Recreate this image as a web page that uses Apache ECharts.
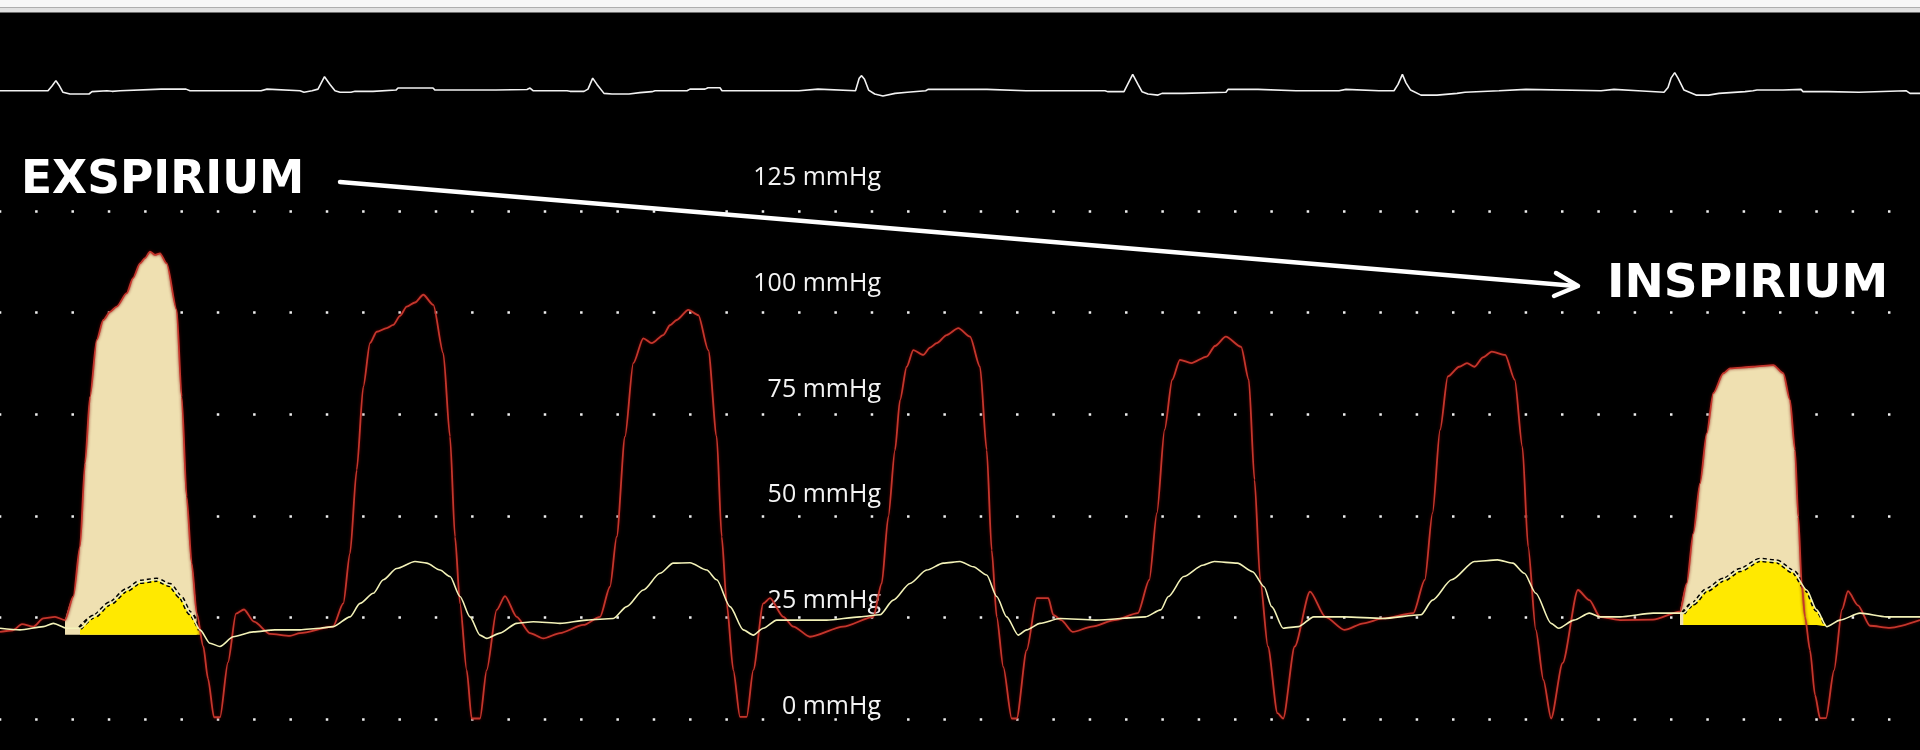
<!DOCTYPE html>
<html><head><meta charset="utf-8">
<script src="https://cdn.jsdelivr.net/npm/echarts@6/dist/echarts.min.js"></script>
<style>html,body{margin:0;padding:0;background:#000;}#c{width:1920px;height:750px;}</style>
</head><body><div id="c"></div>
<script>
// ---- DATA ----
// ECG trace (x = sample position, value in relative mV units)
const ecgTrace = [[0,0],[48,0],[52,0.3],[55.9,0.64],[59,0.35],[63,-0.1],[70,-0.21],[89,-0.21],[92,-0.06],[107,0],[112,-0.04],[120,0],[161,0.1],[186,0.1],[190,0],[261,0],[263,0.1],[267,0.1],[269,0],[300,0],[304,-0.1],[312,0],[318,0.1],[324.5,0.89],[330,0.4],[335,0],[340,-0.1],[351,-0.1],[355,-0.04],[373,-0.04],[375,0.04],[396,0.04],[398,0.17],[433,0.17],[435,0.04],[461,0.04],[463,-0.04],[468,0.04],[496,0.04],[498,0.08],[527,0.08],[530,0.17],[533,0],[567,0],[570,-0.04],[584,-0.04],[588,0.1],[592.7,0.8],[597,0.4],[604,-0.17],[612,-0.21],[629,-0.21],[640,-0.12],[652,-0.06],[655,0],[687,0],[690,0.1],[705,0.1],[708,0.19],[720,0.19],[722,0],[799,0],[801,0.1],[818,0.1],[820,0],[855.5,0],[859.2,0.79],[861.6,0.96],[864.5,0.73],[868.6,0.04],[874.7,-0.21],[882.9,-0.34],[895.1,-0.17],[907.3,-0.1],[925.7,0],[928,0.085],[987,0.085],[989,0],[1026,0],[1028,0.085],[1032,0],[1105,0],[1108,-0.06],[1124,-0.06],[1126,0.2],[1132.7,1.04],[1138,0.4],[1142,-0.06],[1148,-0.21],[1158,-0.28],[1162,-0.17],[1183,-0.17],[1185,-0.1],[1226,-0.1],[1228,0.085],[1258,0.085],[1260,0],[1296,0],[1298,-0.1],[1300,0],[1339,0],[1340,0.085],[1346,0.085],[1348,0],[1379,0],[1380,-0.1],[1382,0],[1394,0],[1398,0.4],[1402.4,1.04],[1406,0.5],[1410.6,0.04],[1421,-0.28],[1437,-0.28],[1439,-0.17],[1457,-0.17],[1459,-0.1],[1465,-0.1],[1467,0],[1499,0],[1501,0.085],[1526,0.085],[1528,0],[1601,0],[1603,0.085],[1614,0.085],[1616,0],[1638,0],[1640,-0.1],[1664,-0.1],[1668,0.2],[1671,0.8],[1674.7,1.15],[1678,0.8],[1684,0.04],[1696,-0.28],[1708.6,-0.28],[1719,-0.17],[1745,-0.06],[1753,0],[1757,0.04],[1783,0.04],[1785,0.085],[1801,0.085],[1803,-0.06],[1828,-0.06],[1830,-0.1],[1859,-0.1],[1861,0],[1906,0],[1910,-0.17],[1920,-0.17]];

// Red pressure trace (mmHg)
const redPressure = [[0,21.5],[13,21.9],[22,23.4],[33.3,22.8],[43.3,24.8],[55,25.2],[65,24.4],[73.3,30.2],[80,42.5],[85,63],[90,79.3],[96.7,93.3],[103.3,98.2],[110,100.2],[116.7,101.5],[126.7,104.8],[133,108.5],[140,112.1],[145,113.4],[150,115],[155,114.2],[160,114.6],[166.7,112.1],[176.7,100.7],[181.7,79.3],[186.7,54.7],[191.7,38.4],[196.7,26.1],[203.3,17.9],[208,10],[214,0.5],[220,0.5],[228,14],[236,26],[244,27],[254,24],[270,21],[290,20.5],[300,21.2],[333,22.8],[343.3,28.5],[350,40.8],[356.7,61.3],[363.3,81.8],[370,92.5],[376.7,95.3],[386.7,96.2],[393.3,97],[400,99.2],[406.7,101.5],[415,102.5],[423.3,104.4],[433.3,101.9],[443.3,90],[450,69.5],[455,44.9],[460,28.5],[466.7,12.1],[471.7,0.2],[480,0.2],[486.7,12.1],[496.7,26.9],[505,30.3],[516.7,25.2],[530,21.2],[543.3,19.9],[560,21.2],[583.3,23.2],[600,25.2],[610,32.6],[616.7,44.9],[625,69.5],[633.3,87.6],[643.3,93.7],[651.7,92.5],[663.3,94.5],[670,96.9],[676.7,98.2],[688.3,100.7],[698.3,99.4],[708.3,90.8],[716.7,69.5],[721.7,44.9],[726.7,28.5],[733.3,12.1],[740,0.6],[746.7,0.6],[753.3,12.1],[763.3,28.5],[770,29.8],[783.3,25.2],[793.3,22.8],[810,20.3],[843.3,22.8],[873.3,25.2],[881.7,33.4],[888.3,49.8],[895,66.2],[900,78.5],[906.7,86.7],[913.3,90.8],[923.3,89.6],[930,91.4],[936.7,92.5],[946.7,94.5],[958.3,96.2],[970,94.1],[980,86.7],[986.7,66.2],[991.7,41.6],[996.7,25.2],[1003.3,12.9],[1011.7,0.2],[1016.7,0.2],[1026.7,17],[1036.7,29.8],[1048.3,29.8],[1053.3,25.7],[1061.2,24.4],[1072.7,21.5],[1091.8,22.8],[1114.8,24.4],[1137.8,26.1],[1149.3,34.3],[1156.9,50.7],[1164.6,71.2],[1172.2,83.5],[1179.9,88.4],[1191.3,87.6],[1206.7,89.2],[1215,91.8],[1225.8,94.1],[1241.1,91.6],[1248.8,83.5],[1254.5,58.9],[1260.2,34.3],[1267.9,17.9],[1277.5,1.5],[1283.2,0.2],[1294.7,17.9],[1310,31.4],[1325.3,25.2],[1344.4,22],[1363.6,23.6],[1382.7,24.8],[1413.3,26.1],[1424.8,34.3],[1432.5,50.7],[1440.1,71.2],[1447.8,84.3],[1459.2,86.7],[1467,87.6],[1474.6,86.7],[1483,89],[1491.8,90.4],[1505.2,89.6],[1514.7,83.5],[1522.4,67],[1528.1,42.5],[1535.8,22],[1543.4,9.7],[1551.1,0.2],[1562.6,13.8],[1577.9,31.8],[1589.4,29.3],[1600,25.2],[1620,24.4],[1653,24.5],[1680,26.5],[1686.7,33.4],[1693.3,45.7],[1700,58],[1706.7,70.3],[1713.3,80.2],[1723.3,85.1],[1730,86.3],[1753.3,86.7],[1773.3,87.1],[1783.3,85.1],[1790,78.5],[1795,66.2],[1798.3,49.8],[1801.7,33.4],[1805,25.2],[1810,17],[1815,6],[1820,0.3],[1826,0.3],[1834,12],[1842,27],[1848,31.5],[1858,28],[1870,23],[1890,22.5],[1920,24.4]];

// Yellow pressure trace (mmHg)
const yellowPressure = [[0,22.4],[20,22],[43.3,22.8],[53.3,23.6],[66.7,22.4],[80,22.4],[93.3,25.2],[110,28.5],[126.7,31.8],[140,33.8],[156.7,34.3],[170,33],[180,30.2],[190,26.1],[200,22],[210,18.7],[220,17.9],[233.3,20.3],[253.3,21.5],[275,22],[300,22],[320,22.4],[333.3,22.8],[350,25.2],[360,28.5],[373.3,31],[383.3,34.3],[396.7,37.1],[415,38.8],[426.7,38.4],[440,36.7],[450,35.1],[460,30.2],[470,25.2],[480,20.7],[486.7,19.9],[500,21.2],[516.7,23.6],[533.3,24],[560,23.6],[586.7,24.4],[613.3,24.8],[626.7,27.7],[643.3,31.8],[660,35.9],[673.3,38.4],[690,38.5],[706.7,36.7],[716.7,34.3],[730,27.7],[743.3,22],[753.3,20.7],[763.3,22.4],[776.7,24.4],[800,24.4],[826.7,24.4],[860,25.2],[880,25.7],[893.3,29.3],[910,33.4],[926.7,36.7],[943.3,38.4],[960,38.8],[973.3,37.5],[986.7,35.5],[996.7,30.2],[1006.7,25.2],[1018.3,20.7],[1026.7,22],[1040,23.6],[1060,24.8],[1095.7,24.4],[1145.4,25.2],[1160.7,26.9],[1168.4,30.2],[1183.7,35.1],[1202.8,37.9],[1214.3,38.8],[1237.3,38.4],[1252.6,36.3],[1264.1,32.6],[1271.7,27.7],[1283.2,22.4],[1298.5,22.8],[1313.8,25.2],[1344.4,25.2],[1382.7,24.8],[1421,25.7],[1432.5,29.3],[1451.6,34.3],[1474.6,38.8],[1497.5,39.2],[1512.8,38.4],[1524.3,35.9],[1535.8,31],[1551.1,23.6],[1558.7,22.4],[1574,24.4],[1589.4,26.1],[1600,25.2],[1620,25.2],[1653.3,26.1],[1683.3,26.1],[1693.3,28.5],[1706.7,31.8],[1723.3,34.3],[1740,36.7],[1760,39.2],[1776.7,38.8],[1793.3,36.3],[1806.7,31.8],[1816.7,26.9],[1826.7,22.8],[1840,24.4],[1860,26.1],[1886.7,25.2],[1920,25.2]];

const pressureTicks = [0, 25, 50, 75, 100, 125];
const pressureUnit = 'mmHg';
const timeRange = [0, 1920];
const ecgRange = [-1, 2];

// highlighted beats: x windows and fill baseline (mmHg)
const exspiriumRedWindow = [65, 196.7];
const exspiriumYellowWindow = [80, 200];
const exspiriumBase = 20.8;
const inspiriumRedWindow = [1680, 1805];
const inspiriumYellowWindow = [1683.3, 1826.7];
const inspiriumBase = 23.2;

const labelTexts = ['EXSPIRIUM', 'INSPIRIUM'];

// ---- CHART ----
const chart = echarts.init(document.getElementById('c'), null, {renderer: 'canvas', width: 1920, height: 750});
const inRange = (arr, r) => arr.filter(p => p[0] >= r[0] && p[0] <= r[1]);
const pMin = pressureTicks[0], pMax = pressureTicks[pressureTicks.length - 1];
const pStep = pressureTicks[1] - pressureTicks[0];
const SMOOTH = 0.25;

function fillSeries(data, color, base, z) {
  return {type: 'line', xAxisIndex: 0, yAxisIndex: 0, data: data, showSymbol: false, clip: false,
    smooth: SMOOTH, smoothMonotone: 'x',
    lineStyle: {width: 0, opacity: 0}, areaStyle: {color: color, opacity: 1, origin: base}, z: z, silent: true};
}
function haloSeries(data) {
  return {type: 'line', xAxisIndex: 0, yAxisIndex: 0, data: data, showSymbol: false, clip: false,
    smooth: SMOOTH, smoothMonotone: 'x',
    lineStyle: {color: '#000', width: 4.5, type: [4, 3]}, z: 3, silent: true};
}

const series = [
  fillSeries(inRange(redPressure, exspiriumRedWindow), '#efe0b1', exspiriumBase, 1),
  fillSeries(inRange(redPressure, inspiriumRedWindow), '#efe0b1', inspiriumBase, 1),
  fillSeries(inRange(yellowPressure, exspiriumYellowWindow), '#ffe900', exspiriumBase, 2),
  fillSeries(inRange(yellowPressure, inspiriumYellowWindow), '#ffe900', inspiriumBase, 2),
  haloSeries(inRange(yellowPressure, exspiriumYellowWindow)),
  haloSeries(inRange(yellowPressure, inspiriumYellowWindow)),
  {type: 'line', name: 'red', xAxisIndex: 0, yAxisIndex: 0, data: redPressure, showSymbol: false, clip: false,
    smooth: SMOOTH, smoothMonotone: 'x',
    lineStyle: {color: '#c4362c', width: 1.8, shadowColor: 'rgba(120,0,0,0.85)', shadowBlur: 3}, z: 4, silent: true},
  {type: 'line', name: 'yellow', xAxisIndex: 0, yAxisIndex: 0, data: yellowPressure, showSymbol: false, clip: false,
    smooth: SMOOTH, smoothMonotone: 'x',
    lineStyle: {color: '#f3f2b8', width: 1.6}, z: 5, silent: true},
  {type: 'line', name: 'ecg', xAxisIndex: 2, yAxisIndex: 2, data: ecgTrace, showSymbol: false, clip: false,
    lineStyle: {color: '#f2f2f2', width: 1.6}, z: 5, silent: true}
];

const option = {
  backgroundColor: '#000',
  animation: false,
  grid: [
    {left: 0, right: 0, top: 211, bottom: 30.7},
    {left: 882, width: 10, top: 178.3, bottom: 43.3},
    {left: 0, right: 0, top: 59.3, bottom: 643.6}
  ],
  xAxis: [
    {type: 'value', gridIndex: 0, min: timeRange[0], max: timeRange[1], show: false, splitLine: {show: false}},
    {type: 'value', gridIndex: 1, min: 0, max: 1, show: false, splitLine: {show: false}},
    {type: 'value', gridIndex: 2, min: timeRange[0], max: timeRange[1], show: false, splitLine: {show: false}}
  ],
  yAxis: [
    {type: 'value', gridIndex: 0, min: pMin, max: pMax, interval: pStep,
      axisLine: {show: false}, axisTick: {show: false}, axisLabel: {show: false},
      splitLine: {show: true, lineStyle: {color: '#f0f0f0', width: 2.5, type: [2.5, 33.83], dashOffset: 1.2}}},
    {type: 'value', gridIndex: 1, min: pMin, max: pMax, interval: pStep,
      axisLine: {show: false}, axisTick: {show: false}, splitLine: {show: false},
      axisLabel: {show: true, margin: 1, color: '#f4f4f4', fontSize: 25, fontFamily: 'Open Sans',
        formatter: v => v + ' ' + pressureUnit}},
    {type: 'value', gridIndex: 2, min: ecgRange[0], max: ecgRange[1], show: false, splitLine: {show: false}}
  ],
  series: series,
  graphic: [
    {type: 'rect', shape: {x: 0, y: 0, width: 1920, height: 7.5}, style: {fill: '#f7f7f7'}, z: 100},
    {type: 'rect', shape: {x: 0, y: 7.5, width: 1920, height: 5}, style: {fill: '#e0e0e0'}, z: 100},
    {type: 'text', x: 21, y: 181, style: {text: labelTexts[0], fill: '#fff', font: 'bold 45.5px "DejaVu Sans"', verticalAlign: 'middle', align: 'left'}, z: 100},
    {type: 'text', x: 1607, y: 285, style: {text: labelTexts[1], fill: '#fff', font: 'bold 47px "DejaVu Sans"', verticalAlign: 'middle', align: 'left'}, z: 100},
    {type: 'line', shape: {x1: 340, y1: 182, x2: 1576, y2: 286}, style: {stroke: '#fff', lineWidth: 4.5, lineCap: 'round'}, z: 100},
    {type: 'polyline', shape: {points: [[1556, 273], [1578, 286], [1554, 296]]}, style: {stroke: '#fff', lineWidth: 4.5, lineCap: 'round', lineJoin: 'round', fill: null}, z: 100}
  ]
};
chart.setOption(option);
</script>
</body></html>
